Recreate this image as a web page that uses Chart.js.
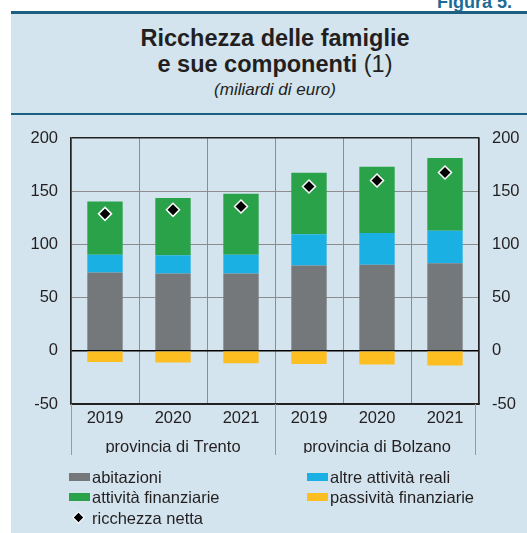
<!DOCTYPE html>
<html>
<head>
<meta charset="utf-8">
<script src="https://cdn.jsdelivr.net/npm/chart.js@4/dist/chart.umd.min.js"></script>
<style>
  html, body { margin: 0; padding: 0; background: #fff; }
  body { width: 527px; height: 533px; position: relative; overflow: hidden; font-family: "Liberation Sans", Arial, sans-serif; color: #231f20; }
  #fig { position: absolute; left: 437px; top: -8px; font-size: 18px; font-weight: bold; color: #1c6b95; white-space: nowrap; }
  #panel { position: absolute; left: 11px; top: 11px; width: 516px; height: 522px; background: #d3e4ee; border-top: 3px solid #1d5f80; }
  #sep { position: absolute; left: 11px; top: 113px; width: 516px; height: 2px; background: #1d5f80; }
  .t { position: absolute; left: 11px; width: 528px; text-align: center; white-space: nowrap; }
  #t1 { top: 25px; font-size: 23.5px; font-weight: bold; }
  #t2 { top: 51px; font-size: 23.5px; font-weight: bold; }
  #t2 span { font-weight: normal; }
  #t3 { top: 80px; font-size: 17px; font-style: italic; }
  #wrap { position: absolute; left: 11px; top: 114px; width: 516px; height: 360px; }
  .lg { position: absolute; font-size: 16.5px; white-space: nowrap; line-height: 20px; }
  .sw { position: absolute; width: 21px; height: 8px; }
  .dm { position: absolute; width: 7px; height: 7px; background: #000; transform: rotate(45deg); outline: 1px solid #fff; }
</style>
</head>
<body>
<div id="fig">Figura 5.</div>
<div id="panel"></div>
<div id="sep"></div>
<div class="t" id="t1">Ricchezza delle famiglie</div>
<div class="t" id="t2">e sue componenti <span>(1)</span></div>
<div class="t" id="t3">(miliardi di euro)</div>
<div id="wrap"><canvas id="c"></canvas></div>

<div class="sw" style="left:69px;top:473px;background:#75787b"></div>
<div class="lg" style="left:92px;top:467px">abitazioni</div>
<div class="sw" style="left:307px;top:473px;background:#1bb0e4"></div>
<div class="lg" style="left:330px;top:467px">altre attività reali</div>
<div class="sw" style="left:69px;top:493px;background:#2aa24a"></div>
<div class="lg" style="left:92px;top:487px">attività finanziarie</div>
<div class="sw" style="left:307px;top:493px;background:#fdbe22"></div>
<div class="lg" style="left:330px;top:487px">passività finanziarie</div>
<div class="dm" style="left:75px;top:514px"></div>
<div class="lg" style="left:92px;top:508px">ricchezza netta</div>

<script>
const years = ['2019', '2020', '2021', '2019', '2020', '2021'];
const groups = ['provincia di Trento', 'provincia di Bolzano'];
const abitazioni = [73.6, 72.7, 72.7, 80.2, 80.8, 82.4];
const altreReali = [16.6, 17.2, 17.5, 29.4, 29.8, 30.4];
const finanziarie = [50.1, 53.6, 57.4, 57.7, 62.3, 68.3];
const passivita = [-10.6, -11.0, -11.6, -12.5, -12.8, -13.8];
const netta = [128.7, 132.5, 135.6, 154.4, 160.0, 167.6];
const yTicks = [200, 150, 100, 50, 0, -50];

const font = { family: '"Liberation Sans", Arial, sans-serif', size: 16.5 };

// vertical separators under the axis between the two provinces
const groupLines = {
  id: 'groupLines',
  afterDraw(chart) {
    const ctx = chart.ctx, a = chart.chartArea, x = chart.scales.x;
    const mid = (x.getPixelForValue(2) + x.getPixelForValue(3)) / 2;
    ctx.save();
    ctx.strokeStyle = '#9a9a9a';
    ctx.lineWidth = 1;
    [a.left, mid, a.right - 4].forEach(px => {
      ctx.beginPath();
      ctx.moveTo(Math.round(px) + 0.5, a.bottom);
      ctx.lineTo(Math.round(px) + 0.5, a.bottom + 51);
      ctx.stroke();
    });
    ctx.restore();
  }
};

const bar = (label, data, color) => ({
  type: 'bar', label, data, backgroundColor: color, borderWidth: 0,
  stack: 'w', barPercentage: 0.52, categoryPercentage: 1
});

new Chart(document.getElementById('c'), {
  data: {
    labels: years,
    datasets: [
      {
        type: 'line', label: 'ricchezza netta', data: netta, stack: 'n',
        showLine: false, pointStyle: 'rectRot', pointRadius: 6.5,
        pointBackgroundColor: '#000', pointBorderColor: '#fff', pointBorderWidth: 1.5
      },
      bar('abitazioni', abitazioni, '#75787b'),
      bar('altre attività reali', altreReali, '#1bb0e4'),
      bar('attività finanziarie', finanziarie, '#2aa24a'),
      bar('passività finanziarie', passivita, '#fdbe22')
    ]
  },
  options: {
    responsive: true,
    maintainAspectRatio: false,
    animation: false,
    layout: { padding: { top: 24, bottom: 21 } },
    plugins: { legend: { display: false }, tooltip: { enabled: false } },
    scales: {
      x: {
        stacked: true,
        grid: { color: '#8c8c8c', drawTicks: false, offset: true },
        border: { color: '#222', width: 1.5 },
        ticks: { color: '#231f20', font, padding: 5 },
        afterFit: s => { s.height = 24; }
      },
      x2: {
        type: 'category',
        labels: groups,
        position: 'bottom',
        offset: true,
        grid: { display: false },
        border: { display: false },
        ticks: { color: '#231f20', font, padding: 2 },
        afterFit: s => { s.height = 25; }
      },
      y: {
        stacked: true,
        min: -50, max: 200,
        afterBuildTicks: s => { s.ticks = yTicks.map(v => ({ value: v })); },
        grid: {
          drawTicks: false,
          color: c => c.tick.value === 0 ? '#000' : (c.tick.value === 200 || c.tick.value === -50 ? '#222' : '#8c8c8c'),
          lineWidth: c => (c.tick.value === 0 || c.tick.value === 200) ? 1.5 : 1
        },
        border: { color: '#222', width: 1.5 },
        ticks: { color: '#231f20', font, padding: 13 },
        afterFit: s => { s.width = 60; }
      },
      y2: {
        position: 'right',
        min: -50, max: 200,
        afterBuildTicks: s => { s.ticks = yTicks.map(v => ({ value: v })); },
        grid: { display: false, drawTicks: false },
        border: { color: '#222', width: 1.5 },
        ticks: { color: '#231f20', font, padding: 13 },
        afterFit: s => { s.width = 48; }
      }
    }
  },
  plugins: [groupLines]
});
</script>
</body>
</html>
